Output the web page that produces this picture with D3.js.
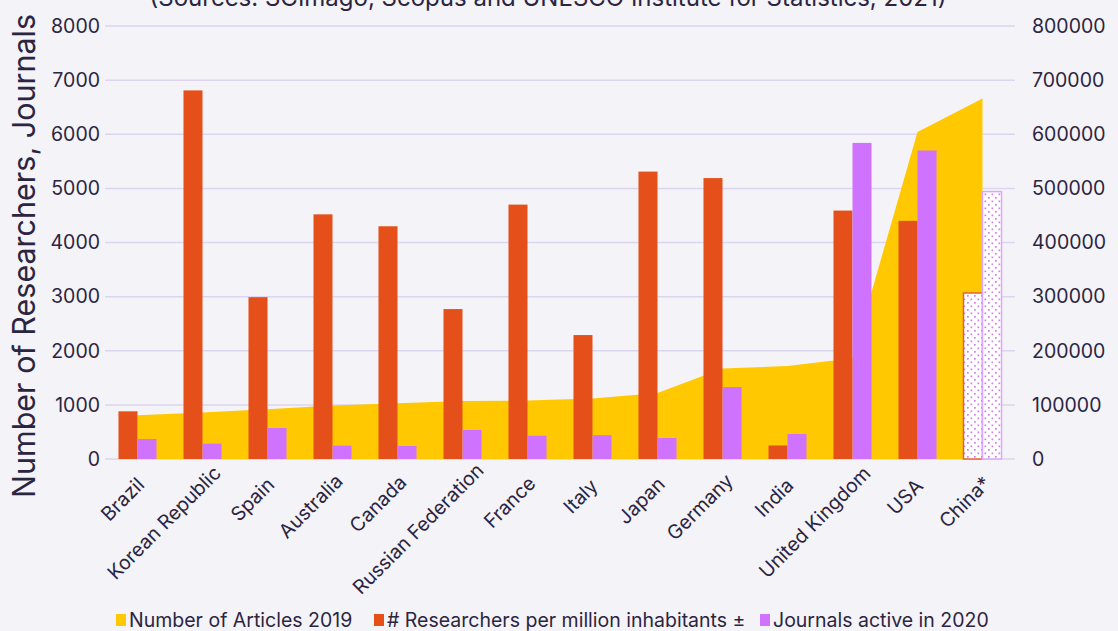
<!DOCTYPE html>
<html>
<head>
<meta charset="utf-8">
<script src="https://cdn.jsdelivr.net/npm/d3@7"></script>
<style>
  body { margin: 0; background: #f4f3f7; }
  svg { display: block; font-family: Inter, "Noto Sans", sans-serif; }
</style>
</head>
<body>
<svg id="chart" width="1118" height="631"></svg>
<script>
"use strict";

// Data
var countries = ["Brazil", "Korean Republic", "Spain", "Australia", "Canada", "Russian Federation",
  "France", "Italy", "Japan", "Germany", "India", "United Kingdom", "USA", "China*"];
var articles2019 = [81000, 86000, 92000, 99000, 103000, 107000, 108000, 112000, 122000,
  167000, 172000, 186000, 604000, 666000];
var researchersPerMillion = [881, 6810, 2990, 4520, 4300, 2770, 4700, 2290, 5310, 5190, 250, 4590, 4400, 3067];
var journals2020 = [370, 283, 573, 246, 240, 536, 430, 440, 388, 1330, 462, 5840, 5700, 4940];
var leftTicks = [0, 1000, 2000, 3000, 4000, 5000, 6000, 7000, 8000];
var rightTicks = [0, 100000, 200000, 300000, 400000, 500000, 600000, 700000, 800000];
var legendItems = ["Number of Articles 2019", "# Researchers per million inhabitants \u00b1", "Journals active in 2020"];

// Colours
var yellow = "#ffc800";
var red = "#e5501a";
var purple = "#cf73fe";
var textColour = "#2b2542";
var gridColour = "#ddd5ef";
var fontSize = 19.5;

var svg = d3.select("#chart");
var plotLeft = 105, plotRight = 1015, plotTop = 26, plotBottom = 459;

var x = d3.scaleBand().domain(countries).range([plotLeft, plotRight]).paddingInner(0.415).paddingOuter(0.2075);
var xSub = d3.scaleBand().domain(["r", "j"]).range([0, x.bandwidth()]);
var yL = d3.scaleLinear().domain([0, 8000]).range([plotBottom, plotTop]);
var yR = d3.scaleLinear().domain([0, 800000]).range([plotBottom, plotTop]);

function centre(c) { return x(c) + x.bandwidth() / 2; }

// Dotted pattern for China (estimates)
var defs = svg.append("defs");
var pat = defs.append("pattern").attr("id", "dots").attr("patternUnits", "userSpaceOnUse")
  .attr("width", 7).attr("height", 7);
pat.append("rect").attr("width", 7).attr("height", 7).attr("fill", "#ffffff");
pat.append("rect").attr("x", 1).attr("y", 1).attr("width", 1.7).attr("height", 1.7).attr("fill", "#d47bf2");
pat.append("rect").attr("x", 4.5).attr("y", 4.5).attr("width", 1.7).attr("height", 1.7).attr("fill", "#d47bf2");

// Subtitle (its top is cut off in the original as well)
svg.append("text")
  .attr("x", 548).attr("y", 6)
  .attr("text-anchor", "middle")
  .attr("font-size", 24)
  .attr("fill", textColour)
  .text("(Sources: SCImago, Scopus and UNESCO Institute for Statistics, 2021)");

// Grid lines
svg.append("g").selectAll("line").data(leftTicks).join("line")
  .attr("x1", plotLeft).attr("x2", plotRight)
  .attr("y1", d => yL(d)).attr("y2", d => yL(d))
  .attr("stroke", gridColour).attr("stroke-width", 1.5);

// Left axis
var axisL = svg.append("g").attr("transform", "translate(" + plotLeft + ",0)")
  .call(d3.axisLeft(yL).tickValues(leftTicks).tickSize(0).tickPadding(5).tickFormat(d3.format("d")));
axisL.select(".domain").remove();
axisL.selectAll("text").attr("font-size", fontSize).attr("fill", textColour);
axisL.attr("font-family", null);

// Right axis
var axisR = svg.append("g").attr("transform", "translate(" + plotRight + ",0)")
  .call(d3.axisRight(yR).tickValues(rightTicks).tickSize(0).tickPadding(17).tickFormat(d3.format("d")));
axisR.select(".domain").remove();
axisR.selectAll("text").attr("font-size", fontSize).attr("fill", textColour);
axisR.attr("font-family", null);

// Articles area
var area = d3.area()
  .x((d, i) => centre(countries[i]))
  .y0(yR(0))
  .y1(d => yR(d));
svg.append("path").datum(articles2019).attr("d", area).attr("fill", yellow);

// Bars
var last = countries.length - 1;
svg.append("g").selectAll("rect").data(researchersPerMillion).join("rect")
  .attr("x", (d, i) => x(countries[i]) + xSub("r"))
  .attr("y", d => yL(d))
  .attr("width", xSub.bandwidth())
  .attr("height", d => yL(0) - yL(d))
  .attr("fill", (d, i) => i == last ? "url(#dots)" : red)
  .attr("stroke", (d, i) => i == last ? "#e8603a" : "none")
  .attr("stroke-width", 1.5);

svg.append("g").selectAll("rect").data(journals2020).join("rect")
  .attr("x", (d, i) => x(countries[i]) + xSub("j"))
  .attr("y", d => yL(d))
  .attr("width", xSub.bandwidth())
  .attr("height", d => yL(0) - yL(d))
  .attr("fill", (d, i) => i == last ? "url(#dots)" : purple)
  .attr("stroke", (d, i) => i == last ? "#dba6ff" : "none")
  .attr("stroke-width", 1.5);

// Country labels, rotated
svg.append("g").selectAll("text").data(countries).join("text")
  .attr("text-anchor", "end")
  .attr("font-size", fontSize)
  .attr("fill", textColour)
  .text(d => d)
  .each(function(d) {
    var s = 0.117 * this.getComputedTextLength();
    d3.select(this).attr("transform",
      "translate(" + (centre(d) + 2 + s) + "," + (492 - s) + ") rotate(-45)");
  });

// Y axis title
svg.append("text")
  .attr("transform", "translate(35,256) rotate(-90)")
  .attr("text-anchor", "middle")
  .attr("font-size", 30.5)
  .attr("fill", textColour)
  .text("Number of Researchers, Journals");

// Legend
var legendX = [116, 374, 760];
var legendColours = [yellow, red, purple];
var legend = svg.append("g");
legendItems.forEach(function(t, i) {
  legend.append("rect").attr("x", legendX[i]).attr("y", 614)
    .attr("width", 10).attr("height", 12).attr("fill", legendColours[i]);
  legend.append("text").attr("x", legendX[i] + 13).attr("y", 627)
    .attr("font-size", fontSize).attr("fill", textColour).text(t);
});
</script>
</body>
</html>
